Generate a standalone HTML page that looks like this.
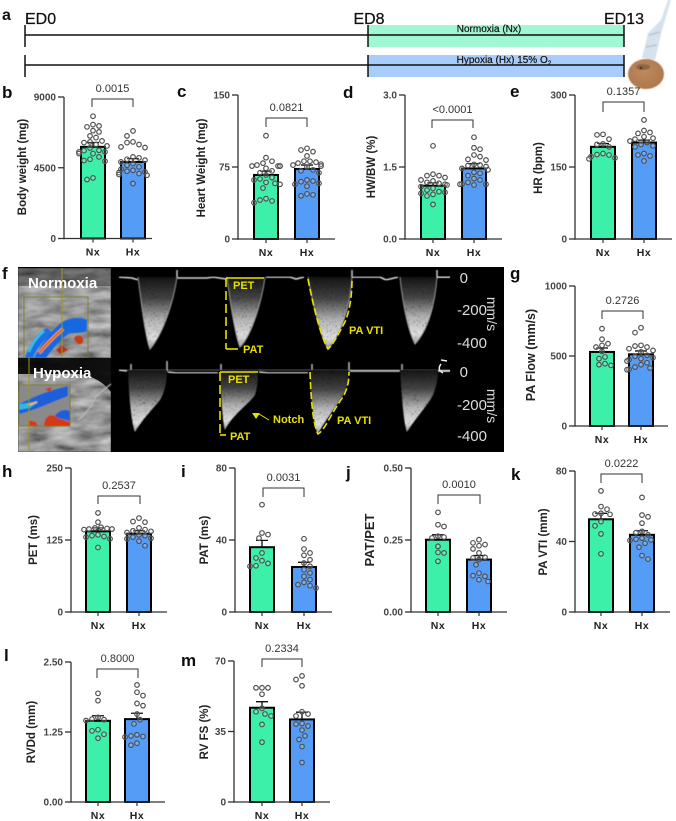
<!DOCTYPE html>
<html lang="en">
<head>
<meta charset="utf-8">
<title>Hypoxia fetal echocardiography figure</title>
<style>
html,body{margin:0;padding:0;background:#fff;}
body{width:676px;height:821px;overflow:hidden;}
svg{display:block;font-family:"Liberation Sans",Arial,sans-serif;}
</style>
</head>
<body>
<svg id="figure" width="676" height="821" viewBox="0 0 676 821" xmlns="http://www.w3.org/2000/svg">
  <defs>
    <filter id="speck" x="-5%" y="-5%" width="110%" height="110%">
      <feTurbulence type="fractalNoise" baseFrequency="0.7" numOctaves="2" seed="4" result="n"/>
      <feColorMatrix in="n" type="matrix" values="0 0 0 0 1  0 0 0 0 1  0 0 0 0 1  1.8 1.8 0 0 -0.55" result="a"/>
      <feComposite in="SourceGraphic" in2="a" operator="in" result="c"/>
      <feGaussianBlur in="c" stdDeviation="0.55"/>
    </filter>
    <filter id="tissue" x="0" y="0" width="100%" height="100%">
      <feTurbulence type="fractalNoise" baseFrequency="0.04 0.13" numOctaves="4" seed="9"/>
      <feColorMatrix type="matrix" values="0.55 0.3 0 0 -0.1  0.55 0.3 0 0 -0.1  0.55 0.3 0 0 -0.1  0 0 0 0 1"/>
      <feGaussianBlur stdDeviation="0.5"/>
    </filter>
    <filter id="soft"><feGaussianBlur stdDeviation="0.6"/></filter>
    <filter id="softer" x="-2%" y="-2%" width="104%" height="104%"><feGaussianBlur stdDeviation="0.3"/></filter>
    <linearGradient id="spectrum" x1="0" y1="0" x2="0" y2="1">
      <stop offset="0" stop-color="#141414"/>
      <stop offset="0.3" stop-color="#444"/>
      <stop offset="0.6" stop-color="#b5b5b5"/>
      <stop offset="0.85" stop-color="#e2e2e2"/>
      <stop offset="1" stop-color="#999"/>
    </linearGradient>
    <radialGradient id="mouseSkin" cx="0.45" cy="0.4" r="0.7">
      <stop offset="0" stop-color="#c08a5e"/>
      <stop offset="1" stop-color="#a9744a"/>
    </radialGradient>
  </defs>

  <rect width="676" height="821" fill="#fff"/>

  <g id="timeline">
    <text x="2" y="20" font-size="16" font-weight="bold" fill="#111">a</text>
    <rect x="368" y="25" width="256" height="22" fill="#a0f7d3"/>
    <rect x="368" y="55" width="256" height="22" fill="#a9cdfa"/>
    <g stroke="#111" fill="none">
      <path stroke-width="1.5" d="M25 35H624M25 25V47M368 25V47M624 25V47"/>
      <path stroke-width="1.5" d="M25 65H624M25 55V77M368 55V77M624 55V77"/>
    </g>
    <text x="25" y="24" font-size="16" fill="#111" stroke="#111" stroke-width="0.25">ED0</text>
    <text x="369" y="24" font-size="16" fill="#111" stroke="#111" stroke-width="0.25" text-anchor="middle">ED8</text>
    <text x="624" y="24" font-size="16" fill="#111" stroke="#111" stroke-width="0.25" text-anchor="middle">ED13</text>
    <text x="489" y="32" font-size="10" fill="#111" stroke="#111" stroke-width="0.2" text-anchor="middle">Normoxia (Nx)</text>
    <text x="504" y="63" font-size="10" fill="#111" stroke="#111" stroke-width="0.2" text-anchor="middle">Hypoxia (Hx) 15% O<tspan font-size="6.5" dy="2">2</tspan></text>
    <g filter="url(#soft)">
      <path d="M668 0 L671 0 L662 30 L655 60 L642 58 L648 33 L661 20 Z" fill="#d5e2ec"/>
      <path d="M649 35 L660 32 M646 47 L657 45" stroke="#aebfcd" stroke-width="1.2" fill="none"/>
      <ellipse cx="646" cy="74" rx="18" ry="15" fill="url(#mouseSkin)"/>
      <ellipse cx="643" cy="67" rx="7" ry="3" fill="#8a6644"/>
      <circle cx="641" cy="68" r="1.2" fill="#222"/>
    </g>
  </g>

  <g id="doppler">
    <text x="2" y="279" font-size="17" font-weight="bold" fill="#111">f</text>
    <rect x="18" y="267" width="486" height="185" fill="#000"/>

    <g>
      <rect x="18" y="268" width="93" height="90" fill="#777" filter="url(#tissue)"/>
      <rect x="18" y="268" width="93" height="18" fill="#000" opacity="0.35"/>
      <g filter="url(#soft)">
        <path d="M25 358 C30 342 38 332 47 328 L52 332 C44 340 36 350 33 358Z" fill="#1d6fe0"/>
        <path d="M34 358 C40 345 52 330 62 322 C70 318 80 316 87 320 L87 331 C80 334 72 332 68 334 C58 342 50 352 46 358Z" fill="#1768e0"/>
        <path d="M39 353 C46 345 54 336 63 329" stroke="#f2a33a" stroke-width="3.5" fill="none"/>
        <path d="M39 353 C46 345 54 336 63 329" stroke="#e2401f" stroke-width="1.4" fill="none"/>
        <path d="M74 338 C78 333 84 336 83 342 C80 346 76 344 74 338Z" fill="#c93a18"/>
        <path d="M56 350 L62 345 L68 350 L60 354Z" fill="#b7321a"/>
        <path d="M29 352 C32 343 38 336 44 331" stroke="#35c3e8" stroke-width="2.5" fill="none"/>
      </g>
      <rect x="24" y="297" width="64" height="61" fill="none" stroke="#7d7a20" stroke-width="0.8"/>
      <line x1="62" y1="268" x2="62" y2="358" stroke="#9a9820" stroke-width="1"/>
      <text x="28" y="288" font-size="15" font-weight="bold" fill="#fff">Normoxia</text>
    </g>

    <g>
      <rect x="18" y="358" width="93" height="94" fill="#777" filter="url(#tissue)"/>
      <path d="M18 358H111V392 C100 378 85 372 60 374 L18 374Z" fill="#000" opacity="0.9"/>
      <g filter="url(#soft)">
        <rect x="19" y="385" width="51" height="41" fill="#8a8a8a"/>
        <path d="M19 404 C35 396 50 390 68 386 L68 396 C52 402 36 410 19 414Z" fill="#1a5fd8"/>
        <path d="M19 404 L38 402 L30 408 L19 410Z" fill="#2fb8e8"/>
        <path d="M28 405 L37 402" stroke="#f0c030" stroke-width="1.8"/>
        <path d="M44 426 C44 416 52 412 58 418 L70 422 V426Z" fill="#d33a12"/>
        <path d="M55 416 C58 410 68 408 70 412 V421 L58 418Z" fill="#1a5fd8"/>
        <path d="M28 420 L36 422 L38 426 H28Z" fill="#d33a12"/>
        <path d="M45 389 L52 387 L50 392Z" fill="#c43a18"/>
      </g>
      <rect x="19" y="385" width="51" height="41" fill="none" stroke="#7d7a20" stroke-width="0.8"/>
      <line x1="29" y1="358" x2="29" y2="452" stroke="#9a9820" stroke-width="1"/>
      <path d="M78 420 C88 412 92 405 96 396 L111 384" stroke="#bbb" stroke-width="1.2" fill="none" filter="url(#soft)"/>
      <text x="33" y="378" font-size="15" font-weight="bold" fill="#fff">Hypoxia</text>
    </g>

    <g>
      <path d="M119 277 L132 278 L138 280 M177 278 H207 L213 277 L226 279 M266 277 H290 L296 279 L304 277 M352 277 H380 L386 280 L398 277 M437 277 H450" stroke="#d8d8d8" stroke-width="1.6" fill="none" filter="url(#soft)"/>
      <path d="M177 270V278M352 270V278M437 270V278" stroke="#ddd" stroke-width="1.4" filter="url(#soft)"/>
      <g fill="url(#spectrum)" filter="url(#speck)">
        <path d="M138 277 C141 300 145 335 150 349 C162 335 173 305 177 277Z"/>
        <path d="M227 277 C230 300 235 335 240 347 C252 335 262 300 265 277Z"/>
        <path d="M308 277 C312 300 320 335 328 349 C340 335 350 310 352 277Z"/>
        <path d="M400 277 C403 305 408 330 415 344 C428 330 435 305 437 277Z"/>
      </g>
      <g fill="none" stroke="#cfcfcf" stroke-width="1.2" opacity="0.6" filter="url(#soft)">
        <path d="M138 277 C141 300 145 335 150 349 C162 335 173 305 177 277"/>
        <path d="M227 277 C230 300 235 335 240 347 C252 335 262 300 265 277"/>
        <path d="M308 277 C312 300 320 335 328 349 C340 335 350 310 352 277"/>
        <path d="M400 277 C403 305 408 330 415 344 C428 330 435 305 437 277"/>
      </g>
    </g>

    <g>
      <line x1="119" y1="370" x2="450" y2="370" stroke="#777" stroke-width="0.8"/>
      <path d="M119 370 L127 371 M168 372 L176 373 H218 M259 372 L268 373 H308 M350 371 H400 M438 371 H450" stroke="#d8d8d8" stroke-width="1.6" fill="none" filter="url(#soft)"/>
      <path d="M167 361V372M349 362V372M131 364V370M221 364V370M312 364V370M402 364V370" stroke="#ccc" stroke-width="1.4" filter="url(#soft)"/>
      <path d="M441 360 L447 361 M441 364 C438 368 439 371 443 373" stroke="#eee" stroke-width="1.5" fill="none"/>
      <g fill="url(#spectrum)" filter="url(#speck)">
        <path d="M128 370 C129 400 132 425 135 432 C142 420 150 412 160 400 C165 392 167 380 167 370Z"/>
        <path d="M220 370 C221 400 223 425 225 430 C232 415 248 405 255 395 C258 385 258 378 258 370Z"/>
        <path d="M310 370 C311 400 314 428 318 434 C325 420 340 402 345 392 C348 385 349 378 349 370Z"/>
        <path d="M400 370 C402 400 404 425 407 432 C414 420 428 405 433 395 C437 385 438 378 438 370Z"/>
      </g>
    </g>

    <g fill="#dcdcdc" font-size="15">
      <line x1="437" y1="277" x2="450" y2="277" stroke="#ddd" stroke-width="1"/>
      <line x1="438" y1="371" x2="450" y2="371" stroke="#ddd" stroke-width="1"/>
      <text x="468" y="283" text-anchor="end">0</text>
      <text x="487" y="315" text-anchor="end">-200</text>
      <text x="487" y="348" text-anchor="end">-400</text>
      <text transform="translate(487,314) rotate(90)" text-anchor="middle" font-size="14">mm/s</text>
      <text x="468" y="377" text-anchor="end">0</text>
      <text x="487" y="410" text-anchor="end">-200</text>
      <text x="487" y="441" text-anchor="end">-400</text>
      <text transform="translate(487,406) rotate(90)" text-anchor="middle" font-size="14">mm/s</text>
    </g>

    <g fill="none" stroke="#e8e000" stroke-width="1.6">
      <path d="M226 278H264"/>
      <path stroke-dasharray="9 4" d="M226 278V349"/>
      <path d="M226 349H238"/>
      <path stroke-dasharray="7 3" d="M308 279 C312 300 320 335 328 349 C332 346 338 335 345 322 C350 310 352 295 352 279"/>
      <path d="M220 372H258"/>
      <path stroke-dasharray="9 4" d="M220 372V435"/>
      <path d="M220 435H226"/>
      <path stroke-dasharray="7 3" d="M310 372 C311 400 313 425 318 434 C325 430 330 415 343 397 C348 388 349 380 349 372"/>
      <path d="M259 414 L269 420" stroke-width="1"/>
      <path d="M252 413H260L256 419Z" fill="#e8e000" stroke="none"/>
    </g>
    <g fill="#e8e000" font-size="11" font-weight="bold">
      <text x="233" y="289">PET</text>
      <text x="243" y="353">PAT</text>
      <text x="349" y="334">PA VTI</text>
      <text x="228" y="383">PET</text>
      <text x="230" y="440">PAT</text>
      <text x="273" y="423">Notch</text>
      <text x="337" y="424">PA VTI</text>
    </g>
  </g>

  <g id="charts" filter="url(#softer)"></g>
</svg>

<script>
// ---- chart data ----
const groupLabels = ["Nx", "Hx"];

const bodyTicks = ["0", "4500", "9000"];
const bodyMeans = [5830, 4870];
const bodySems = [275, 212];
const bodyNx = [7775,7245,7160,7100,6860,6780,6525,6420,6205,6145,6100,5975,5890,5760,5610,5590,5510,5510,5400,5400,5190,5040,4960,4915,3855,3750];
const bodyHx = [6840,6525,6145,6100,5975,5825,5785,5190,5130,5040,4980,4870,4770,4660,4555,4405,4340,4280,4235,4195,4130,4070,4025,3495];

const heartTicks = ["0", "75", "150"];
const heartMeans = [66.7, 73];
const heartSems = [4, 4];
const heartNx = [107.6,84.7,81,79,77,76,76,76,76,73.6,71,69,66.7,64,62.5,61.5,59,58,57,53,42,40.6,39.6,37.8];
const heartHx = [94.4,92.7,91,86.5,81,81,80,79,78,77,76,75,72,71,69,61.5,60.4,59.7,58,57,55,47,46,45];

const hwbwTicks = ["0.0", "1.5", "3.0"];
const hwbwMeans = [1.11, 1.47];
const hwbwSems = [0.06, 0.1];
const hwbwNx = [1.94,1.35,1.32,1.32,1.28,1.23,1.21,1.18,1.16,1.14,1.125,1.09,1.055,1.02,0.986,0.97,0.95,0.93,0.896,0.72];
const hwbwHx = [2.12,1.9,1.87,1.75,1.715,1.645,1.66,1.555,1.54,1.53,1.51,1.47,1.44,1.39,1.37,1.32,1.26,1.23,1.18,1.146,1.14,1.14,1.125];

const hrTicks = ["0", "150", "300"];
const hrMeans = [192, 201];
const hrSems = [7, 5];
const hrNx = [218,217,208,198,197,192,178,176,175,171.5,169,167];
const hrHx = [248,226,222,220,213,210,208,204,201,197,194,192,178,175,173,162.5];

const flowTicks = ["0", "500", "1000"];
const flowMeans = [529, 512];
const flowSems = [28, 24];
const flowNx = [695,620,588,576,564,533,493,481,445,438,433];
const flowHx = [702,667,576,571,564,552,540,529,505,498,488,481,474,464,452,438,421,414,405,402];

const petTicks = ["0", "125", "250"];
const petMeans = [140, 136];
const petSems = [6, 5];
const petNx = [172,156,147,146,145,144,144,143,134,132.5,131,130,127,112];
const petHx = [163,157,156,146,143,141,140,138,134,132.5,130,128,127,123,115];

const patTicks = ["0", "40", "80"];
const patMeans = [36, 25];
const patSems = [3.8, 2.6];
const patNx = [59.6,43.9,43,41,32.8,30,28.5,27,25.7,25.4];
const patHx = [40.7,35,32.8,31.5,29,27.2,25.4,23.5,21.7,19.8,18,16.5,15.2,14.6,13.3];

const ratioTicks = ["0.00", "0.25", "0.50"];
const ratioMeans = [0.251, 0.182];
const ratioSems = [0.017, 0.014];
const ratioNx = [0.346,0.303,0.297,0.263,0.26,0.257,0.228,0.207,0.205,0.176];
const ratioHx = [0.251,0.24,0.234,0.23,0.219,0.205,0.19,0.1875,0.182,0.164,0.135,0.126,0.124,0.112,0.106];

const vtiTicks = ["0", "40", "80"];
const vtiMeans = [52.6, 43.8];
const vtiSems = [3.4, 2.3];
const vtiNx = [68.7,59.8,58.3,56,55.6,55.4,51.3,48.9,44.3,33];
const vtiHx = [65,55,54,50.4,45.7,45,43.8,41.9,41.3,40.9,40.6,39,36.8,32,30];

const rvddTicks = ["0.00", "1.25", "2.50"];
const rvddMeans = [1.45, 1.48];
const rvddSems = [0.09, 0.105];
const rvddNx = [1.94,1.81,1.51,1.48,1.47,1.455,1.29,1.27,1.21,1.14];
const rvddHx = [2.09,1.96,1.9,1.76,1.72,1.57,1.47,1.395,1.2,1.18,1.17,1.16,1.05,1.015];

const fsTicks = ["0", "35", "70"];
const fsMeans = [46.8, 41];
const fsSems = [3, 3.6];
const fsNx = [56.7,56.7,56.7,53.5,46.5,44.8,43.7,42.7,38.5,29.7];
const fsHx = [62.6,60.8,57.7,44.8,43.7,42.7,39,38.7,37.7,35.7,32.8,31,27.5,19.6];

const pBody = "0.0015";
const pHeart = "0.0821";
const pHwbw = "<0.0001";
const pHr = "0.1357";
const pFlow = "0.2726";
const pPet = "0.2537";
const pPat = "0.0031";
const pRatio = "0.0010";
const pVti = "0.0222";
const pRvdd = "0.8000";
const pFs = "0.2334";

// ---- drawing ----
const SVG_NS = "http://www.w3.org/2000/svg";
const chartsRoot = document.getElementById("charts");
const NX_COLOR = "#3ef0a9";
const HX_COLOR = "#559cf7";
const INK = "#333";

function svgEl(tag, parent, attrs) {
  const el = document.createElementNS(SVG_NS, tag);
  for (const key in attrs) el.setAttribute(key, attrs[key]);
  parent.appendChild(el);
  return el;
}

// Prism-style swarm: even horizontal slots, filled centre-out per dot.
function swarmOffsets(values, yScale, spacing, maxOffset) {
  const order = values.map((v, i) => i).sort((a, b) => values[b] - values[a]);
  const placed = [];
  const offsets = new Array(values.length).fill(0);
  order.forEach((idx, n) => {
    const y = yScale(values[idx]);
    const sign = n % 2 === 0 ? 1 : -1;
    let best = null;
    for (let k = 0; k <= 40; k++) {
      const magnitude = Math.ceil(k / 2) * 3;
      const candidate = (k % 2 === 1 ? sign : -sign) * magnitude;
      if (Math.abs(candidate) > maxOffset) continue;
      const free = placed.every(p => Math.hypot(p.x - candidate, p.y - y) >= spacing);
      if (free) {
        best = candidate;
        break;
      }
    }
    if (best === null) best = sign * maxOffset;
    offsets[idx] = best;
    placed.push({ x: best, y: y });
  });
  return offsets;
}

function drawPanel(cfg) {
  const yScale = v => cfg.base - (v / parseFloat(cfg.ticks[cfg.ticks.length - 1])) * (cfg.base - cfg.top);

  const panel = svgEl("g", chartsRoot, {});
  
  

  const letter = svgEl("text", panel, { x: cfg.letterX, y: cfg.letterY, "font-size": 17, "font-weight": "bold", fill: "#111" });
  
  
  letter.textContent = cfg.letter;

  const title = svgEl("text", panel, {
    transform: "translate(" + cfg.titleX + "," + cfg.titleY + ") rotate(-90)",
    "text-anchor": "middle", "font-size": cfg.titleSize || 11.5, "font-weight": "bold", fill: "#222"
  });
  
  
  title.textContent = cfg.title;

  // bars
  const centers = [cfg.barX + cfg.barW / 2, cfg.barX2 + cfg.barW / 2];
  const colors = [NX_COLOR, HX_COLOR];
  groupLabels.forEach((label, i) => {
    const yTop = yScale(cfg.means[i]);
    const bar = svgEl("rect", panel, {
      x: centers[i] - cfg.barW / 2 + 1, y: yTop, width: cfg.barW - 2, height: cfg.base - yTop,
      fill: colors[i], stroke: "#000", "stroke-width": 2
    });
    
    

    const errTop = yScale(cfg.means[i] + cfg.sems[i]);
    const err = svgEl("path", panel, {
      d: "M" + centers[i] + " " + yTop + "V" + errTop + "M" + (centers[i] - 6) + " " + errTop + "H" + (centers[i] + 6),
      stroke: "#111", "stroke-width": 1.3, fill: "none"
    });
    
    
  });

  // axes
  const yAxis = svgEl("line", panel, { x1: cfg.axisX, y1: cfg.top, x2: cfg.axisX, y2: cfg.base + 0.7, stroke: INK, "stroke-width": 1.3 });
  
  
  const xAxis = svgEl("line", panel, { x1: cfg.axisX, y1: cfg.base, x2: cfg.axisEnd, y2: cfg.base, stroke: INK, "stroke-width": 1.3 });
  
  

  cfg.ticks.forEach(label => {
    const y = yScale(parseFloat(label));
    const tick = svgEl("line", panel, { x1: cfg.axisX - 6, y1: y, x2: cfg.axisX, y2: y, stroke: INK, "stroke-width": 1.3 });
    
    
    const text = svgEl("text", panel, { x: cfg.axisX - 8, y: y + 3.6, "text-anchor": "end", "font-size": 10, "font-weight": "bold", fill: "#444" });
    
    
    text.textContent = label;
  });

  groupLabels.forEach((label, i) => {
    const tick = svgEl("line", panel, { x1: centers[i], y1: cfg.base, x2: centers[i], y2: cfg.base + 4, stroke: INK, "stroke-width": 1.2 });
    
    
    const text = svgEl("text", panel, { x: centers[i], y: cfg.base + 17, "text-anchor": "middle", "font-size": 10.5, "font-weight": "bold", fill: "#222", "letter-spacing": "0.6" });
    
    
    text.textContent = label;
  });

  // points
  [cfg.nx, cfg.hx].forEach((series, i) => {
    const offsets = swarmOffsets(series, yScale, 5.9, cfg.barW / 2 + 1);
    series.forEach((value, j) => {
      const dot = svgEl("circle", panel, {
        cx: centers[i] + offsets[j], cy: yScale(value), r: 2.3,
        fill: "rgba(255,255,255,0.2)", stroke: "#505050", "stroke-width": 1.2
      });
      
      
    });
  });

  // significance bracket
  const bracket = svgEl("path", panel, {
    d: "M" + cfg.brX1 + " " + cfg.brBottom + "V" + cfg.brTop + "H" + cfg.brX2 + "V" + cfg.brBottom,
    stroke: "#333", "stroke-width": 1, fill: "none"
  });
  
  
  const pText = svgEl("text", panel, { x: (cfg.brX1 + cfg.brX2) / 2, y: cfg.brTop - 7, "text-anchor": "middle", "font-size": 11, fill: "#333" });
  
  
  pText.textContent = cfg.p;
}

drawPanel({ name: "body-weight", letter: "b", letterX: 2, letterY: 98, title: "Body weight (mg)", titleX: 26, titleY: 167,
  ticks: bodyTicks, means: bodyMeans, sems: bodySems, nx: bodyNx, hx: bodyHx, p: pBody,
  axisX: 64, axisEnd: 152, top: 97, base: 238.5, barX: 80, barX2: 120, barW: 26, brX1: 92, brX2: 133, brTop: 99, brBottom: 107 });

drawPanel({ name: "heart-weight", letter: "c", letterX: 177, letterY: 97, title: "Heart Weight (mg)", titleX: 205, titleY: 168,
  ticks: heartTicks, means: heartMeans, sems: heartSems, nx: heartNx, hx: heartHx, p: pHeart,
  axisX: 238, axisEnd: 335, top: 95, base: 239, barX: 253, barX2: 294, barW: 26, brX1: 266, brX2: 307, brTop: 118, brBottom: 127 });

drawPanel({ name: "heart-body-ratio", letter: "d", letterX: 343, letterY: 98, title: "HW/BW (%)", titleX: 375, titleY: 167,
  ticks: hwbwTicks, means: hwbwMeans, sems: hwbwSems, nx: hwbwNx, hx: hwbwHx, p: pHwbw,
  axisX: 405, axisEnd: 502, top: 95, base: 239, barX: 420, barX2: 461, barW: 26, brX1: 432, brX2: 473, brTop: 120, brBottom: 128 });

drawPanel({ name: "heart-rate", letter: "e", letterX: 510, letterY: 97, title: "HR (bpm)", titleX: 542, titleY: 168,
  ticks: hrTicks, means: hrMeans, sems: hrSems, nx: hrNx, hx: hrHx, p: pHr,
  axisX: 575, axisEnd: 672, top: 95, base: 239, barX: 590, barX2: 631, barW: 26, brX1: 603, brX2: 644, brTop: 102, brBottom: 112 });

drawPanel({ name: "pa-flow", letter: "g", letterX: 510, letterY: 279, title: "PA Flow (mm/s)", titleX: 535, titleY: 355, titleSize: 12.5,
  ticks: flowTicks, means: flowMeans, sems: flowSems, nx: flowNx, hx: flowHx, p: pFlow,
  axisX: 575, axisEnd: 668, top: 286, base: 426, barX: 589, barX2: 628, barW: 26, brX1: 602, brX2: 643, brTop: 311, brBottom: 319 });

drawPanel({ name: "pet", letter: "h", letterX: 2, letterY: 477, title: "PET (ms)", titleX: 37, titleY: 540,
  ticks: petTicks, means: petMeans, sems: petSems, nx: petNx, hx: petHx, p: pPet,
  axisX: 71, axisEnd: 167, top: 468, base: 612, barX: 85, barX2: 126, barW: 26, brX1: 98, brX2: 140, brTop: 496, brBottom: 504 });

drawPanel({ name: "pat", letter: "i", letterX: 181, letterY: 477, title: "PAT (ms)", titleX: 208, titleY: 540,
  ticks: patTicks, means: patMeans, sems: patSems, nx: patNx, hx: patHx, p: pPat,
  axisX: 235, axisEnd: 332, top: 468, base: 612, barX: 249, barX2: 291, barW: 26, brX1: 263, brX2: 304, brTop: 488, brBottom: 497 });

drawPanel({ name: "pat-pet-ratio", letter: "j", letterX: 346, letterY: 478, title: "PAT/PET", titleX: 374, titleY: 540, titleSize: 13,
  ticks: ratioTicks, means: ratioMeans, sems: ratioSems, nx: ratioNx, hx: ratioHx, p: pRatio,
  axisX: 411, axisEnd: 507, top: 468, base: 612, barX: 425, barX2: 466, barW: 26, brX1: 438, brX2: 480, brTop: 495, brBottom: 504 });

drawPanel({ name: "pa-vti", letter: "k", letterX: 511, letterY: 480, title: "PA VTI (mm)", titleX: 547, titleY: 542,
  ticks: vtiTicks, means: vtiMeans, sems: vtiSems, nx: vtiNx, hx: vtiHx, p: pVti,
  axisX: 575, axisEnd: 670, top: 471, base: 612, barX: 588, barX2: 629, barW: 26, brX1: 601, brX2: 642, brTop: 474, brBottom: 483 });

drawPanel({ name: "rvdd", letter: "l", letterX: 4, letterY: 661, title: "RVDd (mm)", titleX: 35, titleY: 732,
  ticks: rvddTicks, means: rvddMeans, sems: rvddSems, nx: rvddNx, hx: rvddHx, p: pRvdd,
  axisX: 71, axisEnd: 165, top: 662, base: 802, barX: 85, barX2: 124, barW: 26, brX1: 97, brX2: 138, brTop: 669, brBottom: 678 });

drawPanel({ name: "rv-fs", letter: "m", letterX: 181, letterY: 666, title: "RV FS (%)", titleX: 208, titleY: 732,
  ticks: fsTicks, means: fsMeans, sems: fsSems, nx: fsNx, hx: fsHx, p: pFs,
  axisX: 234, axisEnd: 330, top: 661, base: 802, barX: 249, barX2: 289, barW: 26, brX1: 262, brX2: 302, brTop: 659, brBottom: 667 });
</script>
</body>
</html>
